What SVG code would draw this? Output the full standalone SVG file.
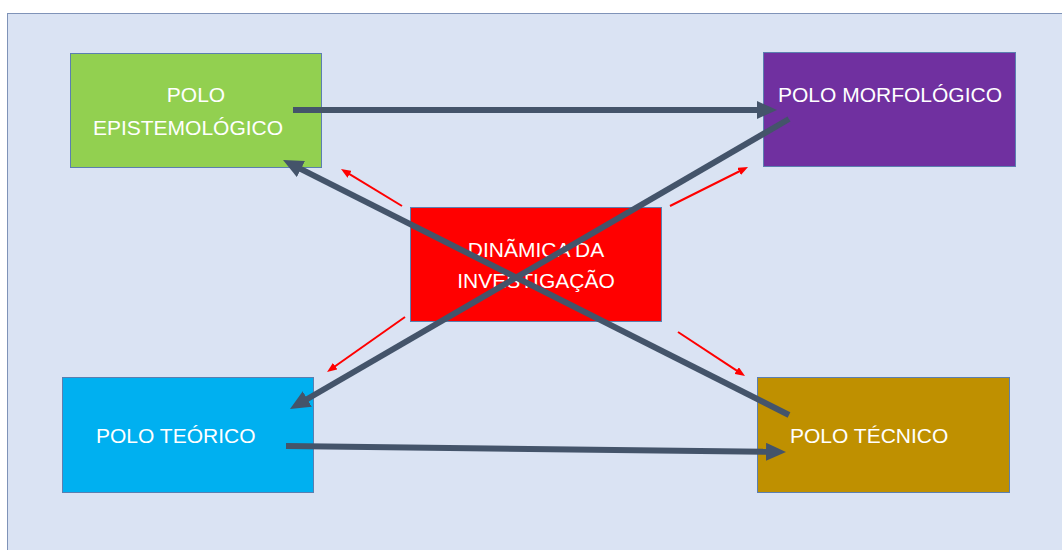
<svg xmlns="http://www.w3.org/2000/svg" width="1062" height="550" viewBox="0 0 1062 550">
<style>
.box{stroke:#5b7fb0;stroke-width:1}
.lbl{font-family:"Liberation Sans",Arial,sans-serif;font-size:21px;fill:#ffffff}
.dark{stroke:#44546a;stroke-width:6;fill:none}
.red{stroke:#ff0000;stroke-width:2;fill:none}
</style>
<defs>
<marker id="hd" markerUnits="userSpaceOnUse" markerWidth="20" markerHeight="18" refX="1" refY="9" orient="auto"><path d="M0,0 L20,9 L0,18 z" fill="#44546a"/></marker>
<marker id="hr" markerUnits="userSpaceOnUse" markerWidth="10" markerHeight="8" refX="1" refY="4" orient="auto"><path d="M0,0 L10,4 L0,8 z" fill="#ff0000"/></marker>
</defs>
<rect x="0" y="0" width="1062" height="550" fill="#ffffff"/>
<rect x="7.5" y="13.5" width="1060" height="545" fill="#dae3f3" stroke="#7f93b8" stroke-width="1"/>
<g id="epistemologico">
<rect class="box" x="70.5" y="53.5" width="251" height="114" fill="#92d050"/>
<text class="lbl" x="196" y="102" text-anchor="middle">POLO</text>
<text class="lbl" x="188" y="135" text-anchor="middle">EPISTEMOLÓGICO</text>
</g>
<g id="morfologico">
<rect class="box" x="763.5" y="52.5" width="252" height="114" fill="#7030a0"/>
<text class="lbl" x="890" y="102" text-anchor="middle">POLO MORFOLÓGICO</text>
</g>
<g id="dinamica">
<rect class="box" x="410.5" y="207.5" width="251" height="114" fill="#ff0000"/>
<text class="lbl" x="536" y="257" text-anchor="middle">DINÃMICA DA</text>
<text class="lbl" x="536" y="288" text-anchor="middle">INVESTIGAÇÃO</text>
</g>
<g id="teorico">
<rect class="box" x="62.5" y="377.5" width="251" height="115" fill="#00b0f0"/>
<text class="lbl" x="96" y="443">POLO TEÓRICO</text>
</g>
<g id="tecnico">
<rect class="box" x="757.5" y="377.5" width="252" height="115" fill="#bf9000"/>
<text class="lbl" x="790" y="443">POLO TÉCNICO</text>
</g>
<g id="connectors">
<line class="red" x1="402" y1="206" x2="348.7" y2="173.7" marker-end="url(#hr)"/>
<line class="red" x1="670" y1="206" x2="740" y2="171" marker-end="url(#hr)"/>
<line class="red" x1="405" y1="317" x2="334.4" y2="366.8" marker-end="url(#hr)"/>
<line class="red" x1="678" y1="332" x2="737.5" y2="371.1" marker-end="url(#hr)"/>
<line class="dark" x1="293" y1="110" x2="758" y2="110" marker-end="url(#hd)"/>
<line class="dark" x1="789" y1="119" x2="306.4" y2="399.5" marker-end="url(#hd)"/>
<line class="dark" x1="789" y1="415" x2="300" y2="168.6" marker-end="url(#hd)"/>
<line class="dark" x1="286" y1="446" x2="767" y2="451.8" marker-end="url(#hd)"/>
</g>
</svg>
